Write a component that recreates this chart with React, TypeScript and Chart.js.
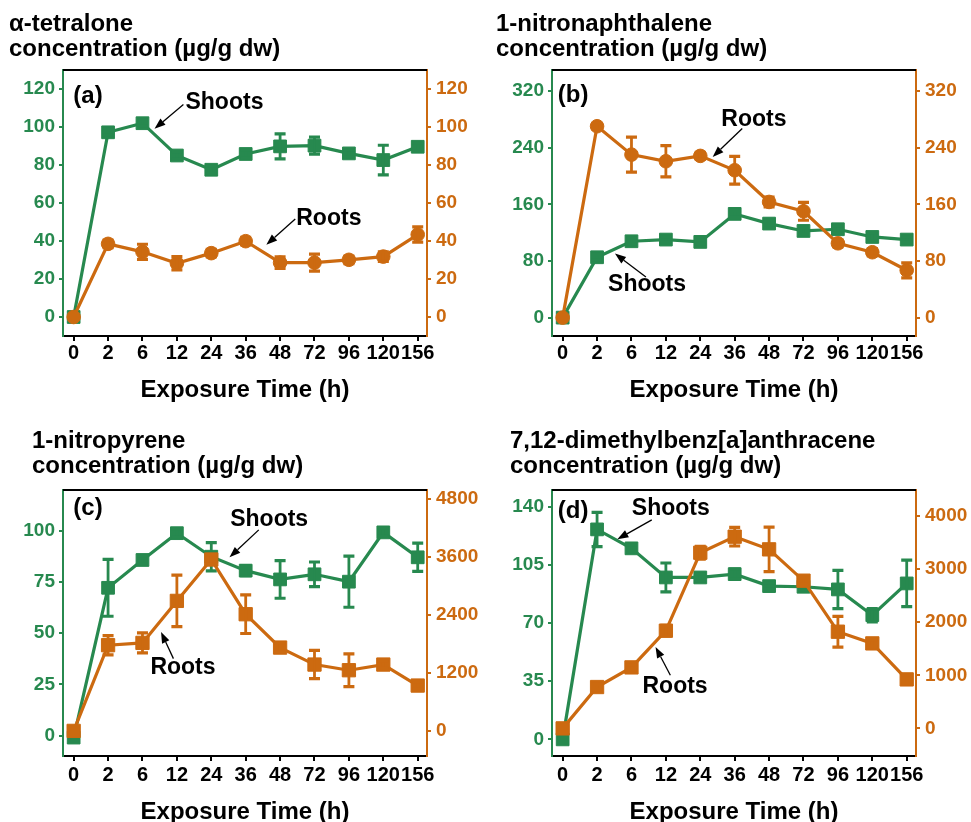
import React, { useEffect, useRef } from 'react';
import { Chart, registerables } from 'chart.js';

Chart.register(...registerables);

const GREEN = '#27894f';
const ORANGE = '#cc6a10';
const FONT = '"Liberation Sans", Arial, Helvetica, sans-serif';

// ---------- data ----------
const xLabels = ['0', '2', '6', '12', '24', '36', '48', '72', '96', '120', '156'];

// (a) alpha-tetralone
const shootsA = [0, 97.2, 102, 85, 77.5, 85.8, 89.8, 90.2, 86.1, 82.6, 89.6];
const shootsErrA = [0, 1.5, 1.5, 2, 2, 2, 6.6, 4.5, 2, 7.8, 2];
const rootsA = [0, 38.5, 34.3, 28.3, 33.6, 39.9, 28.6, 28.6, 30.1, 31.8, 43.4];
const rootsErrA = [0, 2, 4, 3.5, 2, 2, 3, 4.5, 2, 2.5, 4];
const leftTicksA = [0, 20, 40, 60, 80, 100, 120];
const rightTicksA = [0, 20, 40, 60, 80, 100, 120];

// (b) 1-nitronaphthalene
const shootsB = [0, 85.3, 107.9, 110.3, 107, 146.6, 132.9, 122.5, 124.9, 114, 110.3];
const shootsErrB = [0, 4, 4, 4, 3, 5, 6, 5, 5, 6, 4];
const rootsB = [0, 270.5, 230.4, 221, 228.6, 208.3, 163.5, 150.3, 105, 92.4, 66.9];
const rootsErrB = [0, 4, 24.7, 22, 5, 19.5, 7, 12.7, 5, 5, 10.6];
const leftTicksB = [0, 80, 160, 240, 320];
const rightTicksB = [0, 80, 160, 240, 320];

// (c) 1-nitropyrene
const shootsC = [-1, 72.2, 85.8, 98.9, 87.4, 80.6, 76.3, 78.8, 75.2, 99.3, 87.1];
const shootsErrC = [0, 13.9, 2, 2, 6.9, 2.5, 9.2, 6, 12.5, 2, 6.9];
const rootsC = [0, 1775, 1823, 2693, 3550, 2417, 1726, 1374, 1257, 1374, 939];
const rootsErrC = [0, 200, 207, 535, 100, 400, 90, 293, 338, 70, 70];
const leftTicksC = [0, 25, 50, 75, 100];
const rightTicksC = [0, 1200, 2400, 3600, 4800];

// (d) 7,12-dimethylbenz[a]anthracene
const shootsD = [0, 126.3, 114.9, 97.4, 97.4, 99.4, 92.2, 91.8, 90.2, 74.7, 93.8];
const shootsErrD = [0, 10.3, 2, 8.7, 2, 3, 2, 2, 11.5, 4, 14];
const rootsD = [0, 779, 1149, 1840, 3309, 3611, 3372, 2782, 1821, 1601, 923];
const rootsErrD = [0, 50, 50, 100, 120, 176, 420, 60, 290, 60, 80];
const leftTicksD = [0, 35, 70, 105, 140];
const rightTicksD = [0, 1000, 2000, 3000, 4000];

type Note = { text: string; at: [number, number]; from: [number, number]; to: [number, number] };

type PanelCfg = {
  left: number; top: number; w: number; h: number;
  chartTop: number; xAxisH: number; leftW: number; rightW: number;
  xPad: number;
  title: string[]; titleX: number; titleY: number; xTitleY: number;
  label: string; labelPos: [number, number];
  yL: [number, number]; yR: [number, number];
  leftTicks: number[]; rightTicks: number[];
  shoots: number[]; shootsErr: number[]; roots: number[]; rootsErr: number[];
  rootsStyle: 'circle' | 'rect';
  notes: Note[];
};

const panels: PanelCfg[] = [
  {
    left: 0, top: 0, w: 485, h: 411, chartTop: 70, xAxisH: 75, leftW: 63, rightW: 58, xPad: 2,
    title: ['α-tetralone', 'concentration (µg/g dw)'], titleX: 9, titleY: 31, xTitleY: 397,
    label: '(a)', labelPos: [-0.01, 116],
    yL: [-10, 130], yR: [-10, 130], leftTicks: leftTicksA, rightTicks: rightTicksA,
    shoots: shootsA, shootsErr: shootsErrA, roots: rootsA, rootsErr: rootsErrA, rootsStyle: 'circle',
    notes: [
      { text: 'Shoots', at: [3.25, 112.8], from: [3.19, 111.8], to: [2.35, 99.1] },
      { text: 'Roots', at: [6.47, 51.7], from: [6.44, 51.6], to: [5.6, 38.0] },
    ],
  },
  {
    left: 485, top: 0, w: 486, h: 411, chartTop: 70, xAxisH: 75, leftW: 67, rightW: 55, xPad: 2,
    title: ['1-nitronaphthalene', 'concentration (µg/g dw)'], titleX: 11, titleY: 31, xTitleY: 397,
    label: '(b)', labelPos: [-0.14, 314],
    yL: [-26, 350], yR: [-26, 350], leftTicks: leftTicksB, rightTicks: rightTicksB,
    shoots: shootsB, shootsErr: shootsErrB, roots: rootsB, rootsErr: rootsErrB, rootsStyle: 'circle',
    notes: [
      { text: 'Roots', at: [4.61, 280.4], from: [5.22, 267.2], to: [4.36, 227.1] },
      { text: 'Shoots', at: [1.32, 47.1], from: [2.42, 57.4], to: [1.52, 90.5] },
    ],
  },
  {
    left: 0, top: 411, w: 485, h: 411, chartTop: 79, xAxisH: 66, leftW: 63, rightW: 58, xPad: 4,
    title: ['1-nitropyrene', 'concentration (µg/g dw)'], titleX: 32, titleY: 37, xTitleY: 408,
    label: '(c)', labelPos: [-0.01, 110.8],
    yL: [-10, 120], yR: [-520, 4990], leftTicks: leftTicksC, rightTicks: rightTicksC,
    shoots: shootsC, shootsErr: shootsErrC, roots: rootsC, rootsErr: rootsErrC, rootsStyle: 'rect',
    notes: [
      { text: 'Shoots', at: [4.55, 105.4], from: [5.38, 100.5], to: [4.53, 87.1] },
      { text: 'Roots', at: [2.23, 33.1], from: [2.9, 37.6], to: [2.54, 50.6] },
    ],
  },
  {
    left: 485, top: 411, w: 486, h: 411, chartTop: 79, xAxisH: 66, leftW: 67, rightW: 55, xPad: 4,
    title: ['7,12-dimethylbenz[a]anthracene', 'concentration (µg/g dw)'], titleX: 25, titleY: 37, xTitleY: 408,
    label: '(d)', labelPos: [-0.14, 137.4],
    yL: [-10, 150], yR: [-520, 4490], leftTicks: leftTicksD, rightTicks: rightTicksD,
    shoots: shootsD, shootsErr: shootsErrD, roots: rootsD, rootsErr: rootsErrD, rootsStyle: 'rect',
    notes: [
      { text: 'Shoots', at: [2.01, 138.6], from: [2.59, 132.0], to: [1.59, 120.4] },
      { text: 'Roots', at: [2.32, 31.9], from: [3.13, 38.6], to: [2.7, 55.6] },
    ],
  },
];

function makePlugin(cfg: PanelCfg) {
  return {
    id: 'panelDecor',
    afterDatasetDraw(chart: any, args: any) {
      const ds = chart.data.datasets[args.index];
      const err: number[] | undefined = ds.errorBars;
      if (!err) return;
      const ys = chart.scales[ds.yAxisID];
      const ctx = chart.ctx;
      ctx.save();
      ctx.strokeStyle = ds.borderColor;
      args.meta.data.forEach((pt: any, i: number) => {
        const e = err[i];
        if (!e) return;
        const v = ds.data[i].y;
        const yt = ys.getPixelForValue(v + e);
        const yb = ys.getPixelForValue(v - e);
        ctx.lineWidth = 2.8;
        ctx.beginPath();
        ctx.moveTo(pt.x, yt);
        ctx.lineTo(pt.x, yb);
        ctx.stroke();
        ctx.lineWidth = 3.2;
        ctx.beginPath();
        ctx.moveTo(pt.x - 5.5, yt);
        ctx.lineTo(pt.x + 5.5, yt);
        ctx.moveTo(pt.x - 5.5, yb);
        ctx.lineTo(pt.x + 5.5, yb);
        ctx.stroke();
      });
      ctx.restore();
    },
    afterDraw(chart: any) {
      const { ctx, chartArea: ca } = chart;
      const xs = chart.scales.x;
      const yl = chart.scales.yL;
      ctx.save();
      // top frame line
      ctx.strokeStyle = '#000';
      ctx.lineWidth = 2;
      ctx.beginPath();
      ctx.moveTo(ca.left, ca.top);
      ctx.lineTo(ca.right, ca.top);
      ctx.stroke();
      // titles
      ctx.fillStyle = '#000';
      ctx.font = `bold 24px ${FONT}`;
      ctx.textAlign = 'left';
      ctx.textBaseline = 'alphabetic';
      cfg.title.forEach((t, i) => ctx.fillText(t, cfg.titleX, cfg.titleY + i * 25));
      // x axis title
      ctx.font = `bold 24px ${FONT}`;
      ctx.textAlign = 'center';
      ctx.fillText('Exposure Time (h)', (ca.left + ca.right) / 2, cfg.xTitleY);
      // panel label
      ctx.font = `bold 24px ${FONT}`;
      ctx.textAlign = 'left';
      ctx.textBaseline = 'middle';
      ctx.fillText(cfg.label, xs.getPixelForValue(cfg.labelPos[0]), yl.getPixelForValue(cfg.labelPos[1]));
      // annotations
      ctx.font = `bold 23px ${FONT}`;
      cfg.notes.forEach((n) => {
        ctx.fillStyle = '#000';
        ctx.fillText(n.text, xs.getPixelForValue(n.at[0]), yl.getPixelForValue(n.at[1]));
        const x1 = xs.getPixelForValue(n.from[0]);
        const y1 = yl.getPixelForValue(n.from[1]);
        const x2 = xs.getPixelForValue(n.to[0]);
        const y2 = yl.getPixelForValue(n.to[1]);
        const ang = Math.atan2(y2 - y1, x2 - x1);
        const hl = 11;
        const hw = 4;
        const bx = x2 - hl * Math.cos(ang);
        const by = y2 - hl * Math.sin(ang);
        ctx.strokeStyle = '#000';
        ctx.lineWidth = 1.3;
        ctx.beginPath();
        ctx.moveTo(x1, y1);
        ctx.lineTo(bx, by);
        ctx.stroke();
        ctx.beginPath();
        ctx.moveTo(x2, y2);
        ctx.lineTo(bx + hw * Math.sin(ang), by - hw * Math.cos(ang));
        ctx.lineTo(bx - hw * Math.sin(ang), by + hw * Math.cos(ang));
        ctx.closePath();
        ctx.fill();
      });
      ctx.restore();
    },
  };
}

function buildConfig(cfg: PanelCfg): any {
  const tickFontY = { family: FONT, size: 19, weight: 'bold' as const };
  const xf = { family: FONT, size: 20, weight: 'bold' as const, lineHeight: 1 };
  const toPts = (arr: number[]) => arr.map((y, i) => ({ x: i, y }));
  return {
    type: 'line',
    data: {
      datasets: [
        {
          label: 'Roots',
          data: toPts(cfg.roots),
          errorBars: cfg.rootsErr,
          yAxisID: 'yR',
          borderColor: ORANGE,
          backgroundColor: ORANGE,
          borderWidth: 3.2,
          pointStyle: cfg.rootsStyle,
          pointRadius: cfg.rootsStyle === 'circle' ? 6.8 : 9.4,
          pointBackgroundColor: ORANGE,
          pointBorderColor: ORANGE,
          pointBorderWidth: 1,
          tension: 0,
        },
        {
          label: 'Shoots',
          data: toPts(cfg.shoots),
          errorBars: cfg.shootsErr,
          yAxisID: 'yL',
          borderColor: GREEN,
          backgroundColor: GREEN,
          borderWidth: 3.2,
          pointStyle: 'rect',
          pointRadius: 9,
          pointBackgroundColor: GREEN,
          pointBorderColor: GREEN,
          pointBorderWidth: 1,
          tension: 0,
        },
      ],
    },
    options: {
      animation: false,
      responsive: false,
      maintainAspectRatio: false,
      events: [],
      layout: { padding: { top: cfg.chartTop, left: 0, right: 0, bottom: 0 } },
      plugins: { legend: { display: false }, tooltip: { enabled: false }, title: { display: false } },
      scales: {
        x: {
          type: 'linear',
          min: -0.31,
          max: 10.27,
          afterBuildTicks: (s: any) => {
            s.ticks = xLabels.map((_, i) => ({ value: i }));
          },
          afterFit: (s: any) => {
            s.height = cfg.xAxisH;
          },
          ticks: {
            callback: (_v: any, i: number) => xLabels[i],
            autoSkip: false,
            maxRotation: 0,
            minRotation: 0,
            color: '#000',
            font: xf,
            padding: cfg.xPad,
          },
          grid: { display: true, drawOnChartArea: false, drawTicks: true, tickLength: 5, color: '#000', lineWidth: 2 },
          border: { display: true, color: '#000', width: 2 },
        },
        yL: {
          type: 'linear',
          position: 'left',
          min: cfg.yL[0],
          max: cfg.yL[1],
          afterBuildTicks: (s: any) => {
            s.ticks = cfg.leftTicks.map((v) => ({ value: v }));
          },
          afterFit: (s: any) => {
            s.width = cfg.leftW;
          },
          ticks: { color: GREEN, font: tickFontY, padding: 4, callback: (v: any) => String(v) },
          grid: { display: true, drawOnChartArea: false, drawTicks: true, tickLength: 4, color: GREEN, lineWidth: 2 },
          border: { display: true, color: GREEN, width: 2 },
        },
        yR: {
          type: 'linear',
          position: 'right',
          min: cfg.yR[0],
          max: cfg.yR[1],
          afterBuildTicks: (s: any) => {
            s.ticks = cfg.rightTicks.map((v) => ({ value: v }));
          },
          afterFit: (s: any) => {
            s.width = cfg.rightW;
          },
          ticks: { color: ORANGE, font: tickFontY, padding: 5, callback: (v: any) => String(v) },
          grid: { display: true, drawOnChartArea: false, drawTicks: true, tickLength: 4, color: ORANGE, lineWidth: 2 },
          border: { display: true, color: ORANGE, width: 2 },
        },
      },
    },
    plugins: [makePlugin(cfg)],
  };
}

function Panel({ cfg }: { cfg: PanelCfg }) {
  const ref = useRef<HTMLCanvasElement>(null);
  useEffect(() => {
    const chart = new Chart(ref.current!, buildConfig(cfg));
    return () => chart.destroy();
  }, [cfg]);
  return (
    <div style={{ position: 'absolute', left: cfg.left, top: cfg.top, width: cfg.w, height: cfg.h }}>
      <canvas ref={ref} width={cfg.w} height={cfg.h} style={{ width: cfg.w, height: cfg.h, display: 'block' }} />
    </div>
  );
}

export default function App() {
  return (
    <div style={{ position: 'absolute', left: 0, top: 0, width: 971, height: 822, background: '#fff', overflow: 'hidden' }}>
      {panels.map((p, i) => (
        <Panel key={i} cfg={p} />
      ))}
    </div>
  );
}
